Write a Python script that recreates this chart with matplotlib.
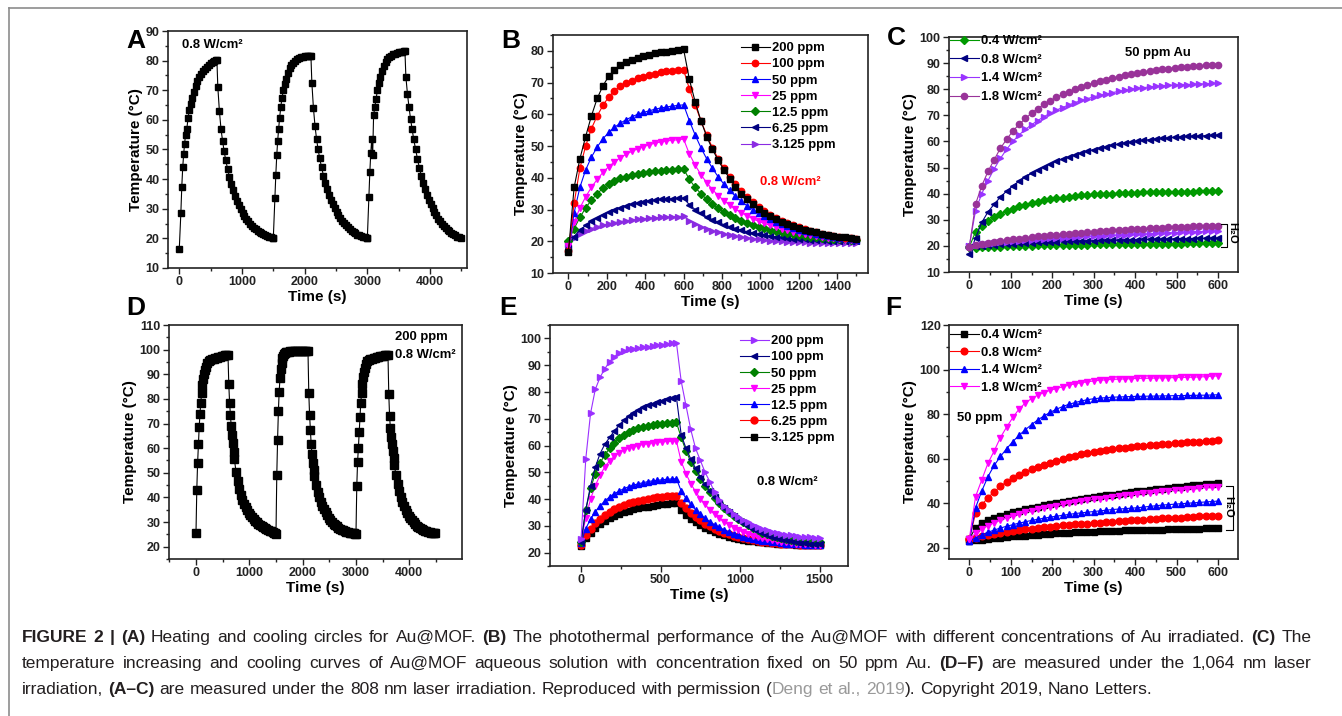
import matplotlib.pyplot as plt
from matplotlib.ticker import MultipleLocator
from matplotlib.lines import Line2D

plt.rcParams['font.family'] = ['Liberation Sans', 'DejaVu Sans']
plt.rcParams['font.weight'] = 'bold'
plt.rcParams['axes.labelweight'] = 'bold'

W, H = 1342, 716

# ---------------- data ----------------
# A: three heating/cooling cycles (808 nm, 0.8 W/cm2)
a_starts = [0, 1500, 3000]
a_heat_t = [0, 25, 40, 55, 70, 85, 100, 120, 140, 160, 180, 200, 230, 260, 290,
            320, 350, 380, 410, 440, 470, 500, 530, 560, 590, 600]
a_cool_t = [615, 640, 665, 690, 715, 740, 770, 800, 830, 860, 890, 920, 950, 980,
            1010, 1040, 1070, 1100, 1130, 1160, 1190, 1220, 1250, 1280, 1310,
            1340, 1370, 1400, 1430, 1460, 1490]
a_heat = [
    [16.5, 28.5, 37.5, 44, 48.5, 52, 55, 57, 60.5, 63.5, 65.5, 67.5, 69.5, 71.5, 73,
     74.5, 75.5, 76.5, 77.3, 78, 78.6, 79.1, 79.5, 79.9, 80.2, 80.3],
    [20, 33.5, 41.5, 48, 53, 57, 60.5, 64.5, 67.5, 70, 72, 73.8, 75.8, 77.4, 78.5,
     79.3, 79.9, 80.4, 80.8, 81.1, 81.3, 81.4, 81.5, 81.6, 81.7, 81.7],
    [20, 34, 42.5, 48.8, 53.5, 48.2, 61.5, 64.5, 67, 70, 72.5, 74.5, 76.5, 78.2, 79.5,
     80.4, 81.1, 81.7, 82.1, 82.4, 82.6, 82.8, 82.9, 83, 83.1, 83.2],
]
a_cool = [
    [71, 63, 57, 53, 49.5, 46.5, 43.5, 40.8, 38.4, 36.3, 34.4, 32.7, 31.2, 29.9, 28.7,
     27.6, 26.6, 25.7, 24.9, 24.2, 23.6, 23, 22.5, 22.1, 21.7, 21.4, 21.1, 20.8, 20.5,
     20.3, 20.1],
    [72.5, 64, 58, 53.5, 50, 47, 44, 41.2, 38.8, 36.6, 34.7, 33, 31.5, 30.1, 28.9,
     27.8, 26.8, 25.9, 25.1, 24.4, 23.7, 23.1, 22.6, 22.1, 21.7, 21.3, 21, 20.7, 20.5,
     20.3, 20.1],
    [74.5, 68.8, 64.3, 60.2, 56.8, 53.4, 50, 46.8, 43.8, 41.2, 38.8, 36.7, 34.8, 33.1,
     31.6, 30.2, 28.9, 27.8, 26.7, 25.8, 25, 24.2, 23.5, 22.9, 22.4, 21.9, 21.4, 21,
     20.6, 20.3, 20],
]

# D: three cycles (1064 nm, 200 ppm, 0.8 W/cm2)
d_starts = [0, 1500, 3000]
d_heat_t = [0, 15, 30, 45, 60, 75, 90, 105, 120, 135, 150, 165, 180, 210, 240, 270,
            300, 330, 360, 390, 420, 450, 480, 510, 540, 570, 600]
d_cool_t = [615, 630, 645, 660, 675, 690, 705, 720, 750, 780, 810, 840, 870, 900,
            930, 960, 990, 1020, 1050, 1080, 1110, 1140, 1170, 1200, 1230, 1260,
            1290, 1320, 1350, 1380, 1410, 1440, 1470, 1490]
d_heat = [
    [25.5, 43, 53.8, 61.5, 68.5, 74, 78.5, 82.5, 85.5, 88, 90, 91.7, 93, 94.5, 95.3,
     95.8, 96.1, 96.3, 96.5, 96.7, 96.9, 97.1, 97.3, 97.5, 97.7, 97.9, 98],
    [25.2, 49, 63.5, 75, 83, 88.5, 92, 94.5, 96.5, 97.5, 98.2, 98.6, 98.9, 99.1, 99.2,
     99.3, 99.3, 99.4, 99.4, 99.4, 99.5, 99.5, 99.5, 99.5, 99.5, 99.5, 99.5],
    [25.3, 44.5, 54.5, 60, 66.5, 72.5, 78.5, 82.5, 86, 89, 91, 92.7, 94, 95.3, 95.8,
     96.1, 96.3, 96.5, 96.7, 96.9, 97.1, 97.3, 97.5, 97.6, 97.8, 97.9, 98],
]
d_cool = [
    [86, 78.5, 73.5, 69, 65.5, 62, 58.5, 55.5, 50.5, 46.5, 43.5, 41, 39, 37.3, 36,
     34.8, 33.7, 32.8, 32, 31.3, 30.6, 30, 29.4, 28.9, 28.4, 28, 27.6, 27.2, 26.8,
     26.5, 26.2, 25.9, 25.6, 25.4],
    [82.5, 73.5, 67.5, 61.5, 57.5, 54, 51, 48.5, 45, 42.2, 40, 38.1, 36.5, 35.1, 33.9,
     32.8, 31.8, 30.9, 30.1, 29.4, 28.8, 28.2, 27.7, 27.3, 26.9, 26.6, 26.3, 26.1,
     25.9, 25.7, 25.6, 25.5, 25.4, 25.3],
    [82, 73, 68, 64.5, 61.5, 59, 56, 53, 49, 45.5, 42.6, 40.2, 38.2, 36.5, 35, 33.7,
     32.6, 31.6, 30.7, 29.9, 29.2, 28.6, 28.1, 27.6, 27.2, 26.8, 26.5, 26.2, 26, 25.8,
     25.7, 25.6, 25.5, 25.5],
]

# B and E: concentration series, 0-1500 s
t_be = [0, 30, 60, 90, 120, 150, 180, 210, 240, 270, 300, 330, 360, 390, 420, 450,
        480, 510, 540, 570, 600, 630, 660, 690, 720, 750, 780, 810, 840, 870, 900,
        930, 960, 990, 1020, 1050, 1080, 1110, 1140, 1170, 1200, 1230, 1260, 1290,
        1320, 1350, 1380, 1410, 1440, 1470, 1500]
conc_labels = ['200 ppm', '100 ppm', '50 ppm', '25 ppm', '12.5 ppm', '6.25 ppm', '3.125 ppm']

b_series = [
    [16.5, 37, 46, 53, 59.5, 65, 69, 72, 74, 75.5, 76.5, 77.2, 77.8, 78.3, 78.8, 79.2,
     79.5, 79.7, 79.9, 80.2, 80.5,
     71, 64, 58, 53, 49, 45.5, 42.5, 39.7, 37.2, 35, 33.2, 31.6, 30.2, 29, 28, 27,
     26.2, 25.5, 24.8, 24.2, 23.7, 23.2, 22.8, 22.4, 22.1, 21.8, 21.5, 21.2, 21, 20.7],
    [17, 32, 43, 50, 55.5, 59.5, 62.8, 65.5, 67.5, 68.8, 69.8, 70.6, 71.3, 71.9, 72.4,
     72.8, 73.2, 73.5, 73.7, 73.9, 74,
     68, 63, 58, 53.5, 49.5, 46, 43, 40.3, 38, 35.8, 34, 32.3, 30.8, 29.5, 28.4, 27.4,
     26.5, 25.7, 25, 24.4, 23.8, 23.3, 22.8, 22.4, 22, 21.7, 21.4, 21.1, 20.9, 20.6],
    [17, 29, 37, 42.5, 46.5, 49.7, 52.3, 54.3, 55.9, 57.2, 58.3, 59.2, 60, 60.6, 61.1,
     61.6, 62, 62.3, 62.6, 62.8, 63,
     58, 53.5, 49.5, 46, 43, 40.3, 38, 36, 34.2, 32.6, 31.2, 30, 28.9, 27.9, 27, 26.2,
     25.5, 24.8, 24.2, 23.7, 23.2, 22.8, 22.4, 22, 21.7, 21.4, 21.1, 20.9, 20.7, 20.5],
    [18.5, 26, 30.5, 34, 37, 39.5, 41.7, 43.5, 45, 46.3, 47.4, 48.3, 49.1, 49.8, 50.4,
     50.9, 51.3, 51.6, 51.8, 52, 52.2,
     47.5, 44, 41, 38.5, 36.3, 34.4, 32.8, 31.4, 30.1, 29, 28, 27.1, 26.3, 25.6, 25,
     24.4, 23.9, 23.4, 23, 22.6, 22.2, 21.9, 21.6, 21.3, 21.1, 20.9, 20.7, 20.5, 20.3, 20.2],
    [20, 24, 27.5, 30.5, 33, 35, 36.7, 38, 39, 39.8, 40.4, 40.9, 41.3, 41.6, 41.9, 42.1,
     42.3, 42.5, 42.6, 42.7, 42.8,
     39.5, 37, 35, 33.2, 31.7, 30.4, 29.2, 28.2, 27.3, 26.5, 25.8, 25.2, 24.6, 24.1,
     23.6, 23.2, 22.8, 22.5, 22.2, 21.9, 21.6, 21.4, 21.2, 21, 20.9, 20.8, 20.7, 20.6, 20.5, 20.4],
    [18, 21.5, 23.5, 25, 26.3, 27.4, 28.4, 29.2, 30, 30.6, 31.2, 31.7, 32.1, 32.5, 32.8,
     33, 33.2, 33.3, 33.4, 33.5, 33.6,
     31.5, 30, 28.8, 27.7, 26.8, 26, 25.2, 24.6, 24, 23.5, 23, 22.6, 22.2, 21.9, 21.6,
     21.4, 21.2, 21, 20.8, 20.7, 20.6, 20.5, 20.4, 20.3, 20.2, 20.2, 20.1, 20.1, 20, 20],
    [19, 21, 22.2, 23.2, 24, 24.6, 25.1, 25.5, 25.9, 26.2, 26.5, 26.7, 26.9, 27.1, 27.3,
     27.4, 27.5, 27.6, 27.7, 27.8, 27.9,
     26.5, 25.5, 24.6, 23.9, 23.3, 22.8, 22.3, 21.9, 21.6, 21.3, 21, 20.8, 20.6, 20.4,
     20.2, 20.1, 20, 19.9, 19.8, 19.7, 19.7, 19.6, 19.6, 19.5, 19.5, 19.5, 19.4, 19.4, 19.4, 19.4],
]
b_colors = ['#000000', '#ff0000', '#0000ff', '#ff00ff', '#008000', '#000080', '#8a2be2']
b_markers = ['s', 'o', '^', 'v', 'D', '<', '>']

e_series = [
    [25, 55, 72, 81, 85.5, 88.7, 91.3, 93.2, 94.6, 95.4, 95.9, 96.2, 96.5, 96.7, 96.9,
     97.1, 97.4, 97.7, 98, 98.2, 98.4,
     84, 75, 66, 59, 54.5, 50, 46.5, 42.5, 39.5, 37.5, 35.8, 34.4, 33.2, 32.2, 31.3,
     30.4, 29.7, 29, 28.3, 27.8, 27.4, 27, 26.7, 26.4, 26.2, 26, 25.8, 25.7, 25.6, 25.5],
    [24, 36, 45, 52, 57, 60.5, 63, 65.5, 67.5, 69.5, 71, 72.3, 73.4, 74.3, 75, 75.6,
     76.2, 76.7, 77.2, 77.6, 78,
     64, 59, 55, 51.5, 48.3, 45.5, 43, 40.7, 38.6, 36.8, 35.1, 33.6, 32.3, 31.1, 30, 29,
     28.1, 27.3, 26.6, 26, 25.5, 25, 24.6, 24.2, 23.9, 23.7, 23.5, 23.3, 23.2, 23.1],
    [24, 36, 44, 49.5, 53.5, 56.5, 59, 61, 62.7, 64, 65, 65.8, 66.4, 66.9, 67.3, 67.6,
     67.9, 68.1, 68.3, 68.5, 68.6,
     63, 58, 54, 50.5, 47.5, 44.8, 42.5, 40.5, 38.5, 36.8, 35.2, 33.8, 32.5, 31.3, 30.2,
     29.2, 28.3, 27.5, 26.8, 26.2, 25.7, 25.3, 25, 24.7, 24.5, 24.3, 24.2, 24.1, 24, 24],
    [24.5, 33, 40, 45, 49, 52, 54.3, 56, 57.3, 58.3, 59, 59.6, 60, 60.4, 60.7, 61, 61.2,
     61.4, 61.5, 61.6, 61.7,
     54, 49.5, 45.8, 42.8, 40.2, 38, 36, 34.3, 32.8, 31.5, 30.3, 29.3, 28.4, 27.6, 26.9,
     26.3, 25.8, 25.3, 24.9, 24.6, 24.3, 24, 23.8, 23.6, 23.4, 23.3, 23.2, 23.1, 23, 23],
    [23.5, 29, 32.5, 35.3, 37.5, 39.3, 40.8, 42, 43, 43.9, 44.6, 45.2, 45.7, 46.1, 46.5,
     46.8, 47, 47.2, 47.4, 47.5, 47.6,
     43, 40.3, 38, 36, 34.3, 32.8, 31.5, 30.4, 29.4, 28.5, 27.8, 27.1, 26.5, 26, 25.5,
     25.1, 24.8, 24.5, 24.2, 24, 23.8, 23.6, 23.4, 23.3, 23.2, 23.1, 23, 23, 22.9, 22.9],
    [23, 26.5, 29, 31, 32.7, 34.1, 35.3, 36.3, 37.1, 37.8, 38.4, 38.9, 39.3, 39.7, 40,
     40.3, 40.6, 40.8, 41, 41.2, 41.3,
     38.5, 36.5, 34.8, 33.3, 32, 30.8, 29.8, 28.9, 28.1, 27.4, 26.8, 26.3, 25.8, 25.4,
     25, 24.7, 24.4, 24.1, 23.9, 23.7, 23.5, 23.4, 23.3, 23.2, 23.1, 23, 23, 23, 22.9, 22.9],
    [22.5, 25.5, 27.5, 29.2, 30.6, 31.8, 32.8, 33.7, 34.4, 35, 35.6, 36.1, 36.5, 36.9,
     37.2, 37.5, 37.8, 38, 38.2, 38.4, 38.5,
     36, 34.2, 32.7, 31.4, 30.3, 29.3, 28.4, 27.7, 27, 26.4, 25.9, 25.5, 25.1, 24.8,
     24.5, 24.2, 24, 23.8, 23.6, 23.5, 23.4, 23.3, 23.2, 23.1, 23, 23, 22.9, 22.9, 22.8, 22.8],
]
e_colors = ['#9b30ff', '#000080', '#008000', '#ff00ff', '#0000ff', '#ff0000', '#000000']
e_markers = ['>', '<', 'D', 'v', '^', 'o', 's']

# C and F: power-density series, 0-600 s (sample + water)
t_cf = [0, 15, 30, 45, 60, 75, 90, 105, 120, 135, 150, 165, 180, 195, 210, 225, 240,
        255, 270, 285, 300, 315, 330, 345, 360, 375, 390, 405, 420, 435, 450, 465,
        480, 495, 510, 525, 540, 555, 570, 585, 600]
power_labels = ['0.4 W/cm²', '0.8 W/cm²', '1.4 W/cm²', '1.8 W/cm²']

c_sample = [
    [19.5, 25.5, 27.5, 29.5, 31, 32.3, 33.4, 34.3, 35.1, 35.8, 36.4, 36.9, 37.4, 37.8,
     38.2, 38.5, 38.8, 39.1, 39.3, 39.5, 39.7, 39.8, 39.9, 40, 40.1, 40.2, 40.3, 40.4,
     40.5, 40.5, 40.6, 40.6, 40.7, 40.7, 40.8, 40.8, 40.8, 40.9, 40.9, 40.9, 41],
    [17, 23, 29, 33, 36, 38.7, 41, 43, 44.8, 46.4, 47.8, 49.1, 50.3, 51.4, 52.4, 53.3,
     54.1, 54.9, 55.6, 56.3, 56.9, 57.5, 58, 58.5, 59, 59.4, 59.8, 60.1, 60.4, 60.7, 61,
     61.2, 61.4, 61.6, 61.8, 61.9, 62, 62.1, 62.2, 62.3, 62.4],
    [20, 33.5, 40, 45, 49.5, 53.5, 57, 60, 62.5, 64.6, 66.4, 68, 69.5, 70.8, 72, 73, 74,
     74.9, 75.7, 76.4, 77.1, 77.7, 78.2, 78.7, 79.2, 79.6, 80, 80.3, 80.6, 80.9, 81.1,
     81.3, 81.5, 81.6, 81.7, 81.8, 81.9, 82, 82.1, 82.2, 82.3],
    [19.5, 36, 43, 48.5, 53, 57.4, 60.8, 64, 66.5, 68.8, 70.8, 72.6, 74.2, 75.6, 76.9,
     78, 79, 80, 80.9, 81.7, 82.5, 83.1, 83.7, 84.3, 84.8, 85.3, 85.8, 86.2, 86.6, 87,
     87.3, 87.6, 87.9, 88.2, 88.4, 88.6, 88.8, 89, 89.1, 89.2, 89.3],
]
c_water = [
    [19.5, 19.3, 19.4, 19.5, 19.6, 19.7, 19.8, 19.9, 20, 20, 20.1, 20.2, 20.2, 20.3,
     20.3, 20.4, 20.4, 20.5, 20.5, 20.5, 20.6, 20.6, 20.6, 20.7, 20.7, 20.7, 20.8, 20.8,
     20.8, 20.8, 20.9, 20.9, 20.9, 20.9, 20.9, 21, 21, 21, 21, 21, 21],
    [19.5, 19.8, 20, 20.2, 20.4, 20.6, 20.7, 20.9, 21, 21.1, 21.2, 21.3, 21.4, 21.5,
     21.6, 21.7, 21.8, 21.8, 21.9, 22, 22, 22.1, 22.2, 22.2, 22.3, 22.3, 22.4, 22.4,
     22.5, 22.5, 22.6, 22.6, 22.7, 22.7, 22.8, 22.8, 22.8, 22.9, 22.9, 23, 23],
    [20, 20.3, 20.6, 20.9, 21.1, 21.4, 21.6, 21.8, 22, 22.2, 22.4, 22.6, 22.7, 22.9, 23,
     23.2, 23.3, 23.4, 23.6, 23.7, 23.8, 23.9, 24, 24.1, 24.2, 24.3, 24.4, 24.5, 24.6,
     24.7, 24.8, 24.9, 25, 25.1, 25.2, 25.3, 25.4, 25.5, 25.6, 25.7, 25.8],
    [19.5, 20.2, 20.7, 21.1, 21.5, 21.9, 22.2, 22.5, 22.8, 23.1, 23.4, 23.6, 23.9, 24.1,
     24.3, 24.5, 24.7, 24.9, 25.1, 25.3, 25.5, 25.6, 25.8, 25.9, 26.1, 26.2, 26.4, 26.5,
     26.6, 26.8, 26.9, 27, 27.1, 27.2, 27.3, 27.4, 27.5, 27.6, 27.7, 27.7, 27.8],
]
c_colors = ['#009900', '#000080', '#9933ff', '#993399']
c_markers = ['D', '<', '>', 'o']

f_sample = [
    [24, 29, 31.2, 32.5, 33.5, 34.4, 35.2, 36, 36.7, 37.3, 37.9, 38.5, 39.1, 39.6, 40.1,
     40.6, 41.1, 41.5, 41.9, 42.3, 42.7, 43.1, 43.5, 43.9, 44.3, 44.7, 45.1, 45.4, 45.7,
     46, 46.3, 46.6, 46.9, 47.2, 47.5, 47.8, 48, 48.3, 48.5, 48.8, 49],
    [24, 35.5, 39.3, 42.5, 45.2, 47.6, 49.6, 51.3, 52.8, 54.1, 55.3, 56.4, 57.4, 58.3,
     59.1, 59.9, 60.6, 61.3, 61.9, 62.5, 63, 63.5, 63.9, 64.3, 64.7, 65, 65.3, 65.6,
     65.9, 66.1, 66.3, 66.5, 66.7, 66.9, 67.1, 67.3, 67.5, 67.7, 67.9, 68.1, 68.2],
    [23, 38, 45.5, 52, 57, 61, 64.5, 67.7, 70.5, 73, 75.3, 77.4, 79.2, 80.8, 82.2, 83.4,
     84.4, 85.2, 85.9, 86.5, 86.9, 87.2, 87.4, 87.6, 87.7, 87.8, 87.9, 88, 88, 88.1,
     88.1, 88.2, 88.2, 88.3, 88.3, 88.4, 88.4, 88.5, 88.5, 88.6, 88.7],
    [24, 43, 50.5, 58, 63.5, 69.5, 74.2, 78.5, 82.3, 85, 87, 88.5, 89.7, 90.7, 91.5,
     92.3, 93, 93.6, 94.1, 94.5, 94.9, 95.2, 95.4, 95.6, 95.7, 95.8, 95.9, 96, 96.1,
     96.1, 96.2, 96.3, 96.3, 96.4, 96.5, 96.5, 96.6, 96.7, 96.8, 97, 97.2],
]
f_water = [
    [23, 23.4, 23.7, 24, 24.3, 24.6, 24.9, 25.1, 25.3, 25.5, 25.7, 25.9, 26.1, 26.3,
     26.5, 26.7, 26.8, 27, 27.1, 27.2, 27.3, 27.4, 27.5, 27.6, 27.7, 27.8, 27.9, 28, 28,
     28.1, 28.2, 28.2, 28.3, 28.4, 28.4, 28.5, 28.5, 28.6, 28.7, 28.7, 28.8],
    [24, 24.6, 25.2, 25.7, 26.2, 26.7, 27.1, 27.5, 27.9, 28.3, 28.6, 28.9, 29.2, 29.5,
     29.8, 30.1, 30.3, 30.5, 30.7, 30.9, 31.1, 31.3, 31.5, 31.7, 31.9, 32.1, 32.3, 32.5,
     32.7, 32.9, 33, 33.2, 33.3, 33.5, 33.6, 33.8, 33.9, 34.1, 34.2, 34.4, 34.5],
    [23, 24.5, 25.8, 27, 28, 28.9, 29.7, 30.4, 31.1, 31.7, 32.3, 32.8, 33.3, 33.8, 34.2,
     34.6, 35, 35.4, 35.7, 36, 36.3, 36.6, 36.9, 37.2, 37.4, 37.6, 37.8, 38, 38.3, 38.6,
     38.9, 39.2, 39.4, 39.6, 39.8, 40, 40.2, 40.4, 40.6, 40.8, 41],
    [24, 26.5, 28.5, 30, 31.3, 32.4, 33.4, 34.3, 35.1, 35.9, 36.6, 37.3, 37.9, 38.5, 39,
     39.5, 40, 40.5, 40.9, 41.3, 41.7, 42.1, 42.5, 42.9, 43.2, 43.5, 43.8, 44.1, 44.4,
     44.7, 45, 45.3, 45.6, 45.9, 46.1, 46.4, 46.6, 46.9, 47.1, 47.3, 47.5],
]
f_colors = ['#000000', '#ff0000', '#0000ff', '#ff00ff']
f_markers = ['s', 'o', '^', 'v']


# ---------------- helpers ----------------
def box(l, t, r, b):
    return [l / W, 1 - b / H, (r - l) / W, (b - t) / H]


def fpos(x, y):
    return x / W, 1 - y / H


def style(ax, xlim, ylim, xmaj, xmin, ymaj, ymin):
    ax.set_xlim(*xlim)
    ax.set_ylim(*ylim)
    ax.xaxis.set_major_locator(MultipleLocator(xmaj))
    ax.xaxis.set_minor_locator(MultipleLocator(xmin))
    ax.yaxis.set_major_locator(MultipleLocator(ymaj))
    ax.yaxis.set_minor_locator(MultipleLocator(ymin))
    ax.tick_params(which='both', direction='out', top=False, right=False,
                   labelsize=9, width=1, pad=2, colors='#222222')
    ax.tick_params(which='major', length=4)
    ax.tick_params(which='minor', length=2.5)
    for s in ax.spines.values():
        s.set_linewidth(1.2)
        s.set_color('#222222')
    ax.set_xlabel('Time (s)', fontsize=11, labelpad=1)
    ax.set_ylabel('Temperature (°C)', fontsize=11, labelpad=2)


def cycles(starts, heat_t, cool_t, heat, cool):
    xs, ys = [], []
    for s, h, c in zip(starts, heat, cool):
        xs += [s + t for t in heat_t] + [s + t for t in cool_t]
        ys += h + c
    return xs, ys


def add_legend(ax, handles, labels, x, y, spacing):
    ax.legend(handles, labels, loc='upper left', bbox_to_anchor=fpos(x, y),
              bbox_transform=fig.transFigure, frameon=False, borderpad=0,
              borderaxespad=0, handlelength=2.2, handletextpad=0.2,
              labelspacing=spacing, prop={'size': 9.4, 'weight': 'bold'})


fig = plt.figure(figsize=(W / 100, H / 100), dpi=100)

# frame around figure
fig.add_artist(Line2D([9 / W, 1], [1 - 8 / H, 1 - 8 / H], transform=fig.transFigure,
                      color='#8c8c8c', lw=1.2))
fig.add_artist(Line2D([9 / W, 9 / W], [1 - 8 / H, 0], transform=fig.transFigure,
                      color='#8c8c8c', lw=1.2))

# ---------------- A ----------------
axA = fig.add_axes(box(168, 31, 467, 268))
x, y = cycles(a_starts, a_heat_t, a_cool_t, a_heat, a_cool)
axA.plot(x, y, color='k', lw=0.8, marker='s', ms=4.4)
style(axA, (-180, 4590), (10, 90), 1000, 500, 10, 5)
fig.text(*fpos(182, 45), '0.8 W/cm²', fontsize=9.4, va='center')

# ---------------- B ----------------
axB = fig.add_axes(box(553, 35, 868, 273))
hB = []
for i, (vals, c, m) in enumerate(zip(b_series, b_colors, b_markers)):
    ln, = axB.plot(t_be, vals, color=c, lw=0.8, marker=m,
                   ms=3.8 if m == 'D' else 4.6, zorder=10 - i)
    hB.append(ln)
style(axB, (-80, 1560), (10, 85), 200, 100, 10, 5)
add_legend(axB, hB, conc_labels, 741, 42, 0.31)
fig.text(*fpos(760, 182), '0.8 W/cm²', fontsize=9.4, va='center', color='#ff0000')

# ---------------- C ----------------
axC = fig.add_axes(box(949, 37, 1238, 272))
hC = []
for i, (vals, wat, c, m) in enumerate(zip(c_sample, c_water, c_colors, c_markers)):
    ms = 3.8 if m == 'D' else 4.5
    ln, = axC.plot(t_cf, vals, color=c, lw=0.8, marker=m, ms=ms, zorder=5 + i)
    axC.plot(t_cf, wat, color=c, lw=0.8, marker=m, ms=ms, zorder=5 + i)
    hC.append(ln)
style(axC, (-49, 648), (10, 100), 100, 50, 10, 5)
add_legend(axC, hC, power_labels, 950, 35, 0.5)
axC.plot([606, 621, 621, 606], [28.3, 28.3, 19.5, 19.5], color='k', lw=0.8, zorder=20)
axC.text(633, 24.9, 'H₂O', rotation=-90, fontsize=8, ha='center', va='center')
fig.text(*fpos(1125, 53), '50 ppm Au', fontsize=9.4, va='center')

# ---------------- D ----------------
axD = fig.add_axes(box(169, 325, 462, 559))
x, y = cycles(d_starts, d_heat_t, d_cool_t, d_heat, d_cool)
axD.plot(x, y, color='k', lw=0.8, marker='s', ms=5.6)
style(axD, (-506, 4988), (15, 110), 1000, 500, 10, 5)
fig.text(*fpos(395, 337), '200 ppm', fontsize=9.4, va='center')
fig.text(*fpos(395, 355), '0.8 W/cm²', fontsize=9.4, va='center')

# ---------------- E ----------------
axE = fig.add_axes(box(550, 325, 848, 566))
hE = []
for i, (vals, c, m) in enumerate(zip(e_series, e_colors, e_markers)):
    ln, = axE.plot(t_be, vals, color=c, lw=0.8, marker=m,
                   ms=4.2 if m == 'D' else 5, zorder=10 - i)
    hE.append(ln)
style(axE, (-195, 1679), (15, 105), 500, 250, 10, 5)
add_legend(axE, hE, conc_labels, 740, 335, 0.31)
fig.text(*fpos(757, 482), '0.8 W/cm²', fontsize=9.4, va='center')

# ---------------- F ----------------
axF = fig.add_axes(box(949, 325, 1238, 559))
hF = []
for i, (vals, wat, c, m) in enumerate(zip(f_sample, f_water, f_colors, f_markers)):
    ln, = axF.plot(t_cf, vals, color=c, lw=0.8, marker=m, ms=4.8, zorder=5 + i)
    axF.plot(t_cf, wat, color=c, lw=0.8, marker=m, ms=4.8, zorder=5 + i)
    hF.append(ln)
style(axF, (-49, 648), (15, 120), 100, 50, 20, 10)
add_legend(axF, hF, power_labels, 950, 329, 0.41)
axF.plot([620, 636, 636, 620], [47.6, 47.6, 28.2, 28.2], color='k', lw=0.8, zorder=20)
axF.text(625, 38.6, 'H₂O', rotation=-90, fontsize=8, ha='center', va='center')
fig.text(*fpos(957, 418), '50 ppm', fontsize=9.4, va='center')

# panel letters
for letter, (px, py) in zip('ABCDEF', [(136, 41), (511, 41), (896, 38),
                                       (136, 308), (508, 308), (893, 308)]):
    fig.text(*fpos(px, py), letter, fontsize=19, ha='center', va='center')

# ---------------- caption (justified like the journal page) ----------------
CAPC = '#231f20'
CAP_SIZE = 12.5
renderer = fig.canvas.get_renderer()


def text_width(s, weight):
    t = fig.text(0, 0, s, fontsize=CAP_SIZE, fontweight=weight)
    w = t.get_window_extent(renderer).width
    t.remove()
    return w


def caption_line(x0, y, parts, right=None):
    tokens = []
    pending = False
    for s, w, c in parts:
        for k, p in enumerate(s.split(' ')):
            if k > 0:
                pending = True
            if p == '':
                continue
            tokens.append((p, w, c, pending and len(tokens) > 0))
            pending = False
    space = text_width('x x', 'normal') - text_width('xx', 'normal')
    widths = [text_width(p, w) for p, w, c, sp in tokens]
    n_sp = sum(1 for tk in tokens if tk[3])
    if right is not None and n_sp:
        space = space + (right - x0 - sum(widths) - n_sp * space) / n_sp
    x = x0
    for (p, w, c, sp), wd in zip(tokens, widths):
        if sp:
            x += space
        fig.text(x / W, 1 - y / H, p, fontsize=CAP_SIZE, fontweight=w, color=c,
                 va='baseline', ha='left')
        x += wd


caption_line(22, 642, [
    ('FIGURE 2 | (A)', 'bold', CAPC),
    (' Heating and cooling circles for Au@MOF. ', 'normal', CAPC),
    ('(B)', 'bold', CAPC),
    (' The photothermal performance of the Au@MOF with different concentrations of Au irradiated. ', 'normal', CAPC),
    ('(C)', 'bold', CAPC),
    (' The', 'normal', CAPC),
], right=1312)
caption_line(22, 668, [
    ('temperature increasing and cooling curves of Au@MOF aqueous solution with concentration fixed on 50 ppm Au. ', 'normal', CAPC),
    ('(D–F)', 'bold', CAPC),
    (' are measured under the 1,064 nm laser', 'normal', CAPC),
], right=1312)
caption_line(22, 694, [
    ('irradiation, ', 'normal', CAPC),
    ('(A–C)', 'bold', CAPC),
    (' are measured under the 808 nm laser irradiation. Reproduced with permission (', 'normal', CAPC),
    ('Deng et al., 2019', 'normal', '#9a9a9a'),
    ('). Copyright 2019, Nano Letters.', 'normal', CAPC),
])

fig.savefig('out.png', dpi=100)
